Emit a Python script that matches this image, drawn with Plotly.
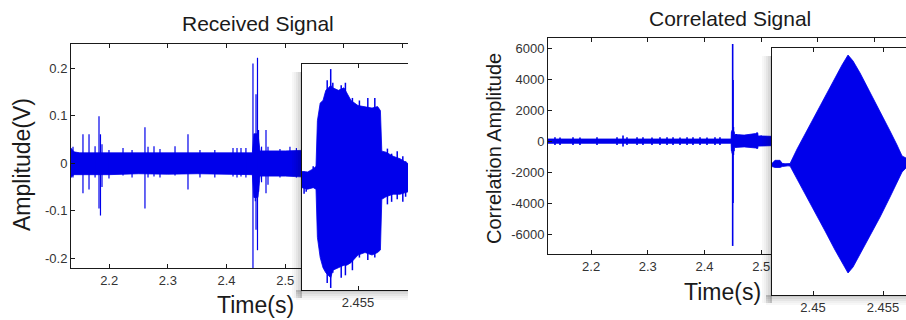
import plotly.graph_objects as go

W, H = 906, 320
BLUE = "rgb(0,0,235)"

# ---------------- Received signal (main panel) ----------------
recv_band_t  = [2.135, 2.140, 2.15, 2.20, 2.25, 2.30, 2.35, 2.40, 2.444, 2.4465, 2.4535, 2.457, 2.50, 2.55, 2.60, 2.71]
recv_band_hi = [0.032, 0.024, 0.022, 0.022, 0.021, 0.022, 0.021, 0.022, 0.022, 0.062, 0.062, 0.026, 0.026, 0.028, 0.030, 0.030]
recv_band_lo = [-0.030, -0.024, -0.023, -0.024, -0.022, -0.023, -0.022, -0.023, -0.024, -0.072, -0.072, -0.027, -0.027, -0.030, -0.030, -0.030]

recv_spike_t  = [2.1384, 2.1554, 2.1657, 2.1760, 2.1827, 2.1852, 2.1878, 2.1997, 2.2236, 2.2390,
                 2.2610, 2.2662, 2.2764, 2.2866, 2.3122, 2.3343, 2.3547, 2.3800, 2.4110, 2.4178,
                 2.4246, 2.4330, 2.4450, 2.4490, 2.4502, 2.4527, 2.4545, 2.4596, 2.4672, 2.4706,
                 2.4910, 2.5080, 2.5190]
recv_spike_hi = [0.035, 0.061, 0.061, 0.036, 0.099, 0.061, 0.040, 0.028, 0.032, 0.028,
                 0.076, 0.035, 0.036, 0.030, 0.036, 0.061, 0.028, 0.028, 0.032, 0.032,
                 0.032, 0.032, 0.210, 0.060, 0.145, 0.222, 0.070, 0.035, 0.070, 0.035,
                 0.030, 0.035, 0.032]
recv_spike_lo = [-0.030, -0.063, -0.055, -0.030, -0.095, -0.110, -0.050, -0.032, -0.026, -0.030,
                 -0.095, -0.030, -0.028, -0.030, -0.026, -0.055, -0.030, -0.030, -0.028, -0.030,
                 -0.028, -0.030, -0.222, -0.080, -0.140, -0.183, -0.060, -0.040, -0.063, -0.045,
                 -0.030, -0.025, -0.030]

recv_xticks = [2.2, 2.3, 2.4, 2.5, 2.6, 2.7]
recv_xtext  = ["2.2", "2.3", "2.4", "2.5", "", ""]
recv_yticks = [-0.2, -0.1, 0, 0.1, 0.2]
recv_ytext  = ["-0.2", "-0.1", "0", "0.1", "0.2"]

# ---------------- Received signal (zoom inset) ----------------
rin_band_t  = [2.4510, 2.4514, 2.4518, 2.4520, 2.4521, 2.4523, 2.4525, 2.4527, 2.4529, 2.45305,
               2.4532, 2.4536, 2.4540, 2.4542, 2.4545, 2.4550, 2.4555, 2.4560, 2.4564, 2.4566,
               2.4567, 2.4570, 2.4575, 2.4580, 2.4586]
rin_band_hi = [0.020, 0.019, 0.025, 0.030, 0.120, 0.155, 0.160, 0.180, 0.185, 0.190,
               0.185, 0.180, 0.185, 0.175, 0.160, 0.150, 0.148, 0.145, 0.148, 0.140,
               0.060, 0.058, 0.050, 0.045, 0.035]
rin_band_lo = [-0.012, -0.015, -0.012, -0.015, -0.110, -0.150, -0.170, -0.180, -0.185, -0.190,
               -0.175, -0.170, -0.165, -0.165, -0.160, -0.145, -0.140, -0.145, -0.140, -0.135,
               -0.035, -0.030, -0.025, -0.025, -0.020]
rin_spike_t  = [2.45115, 2.4513, 2.4518, 2.4528, 2.45305, 2.4532, 2.4538, 2.4541, 2.4546, 2.4551,
                2.4557, 2.4562, 2.4571, 2.4574, 2.4578, 2.4582, 2.4584]
rin_spike_hi = [0.020, 0.018, 0.030, 0.200, 0.222, 0.195, 0.190, 0.195, 0.165, 0.160,
                0.165, 0.165, 0.065, 0.055, 0.060, 0.050, 0.040]
rin_spike_lo = [-0.024, -0.020, -0.010, -0.200, -0.210, -0.180, -0.190, -0.185, -0.175, -0.150,
                -0.155, -0.150, -0.045, -0.040, -0.035, -0.040, -0.030]
rin_xticks = [2.45, 2.455, 2.46]
rin_xtext  = ["2.45", "2.455", "2.46"]

# ---------------- Correlated signal (main panel) ----------------
corr_band_t  = [2.124, 2.20, 2.30, 2.40, 2.447, 2.4475, 2.4525, 2.453, 2.47, 2.49, 2.494, 2.4945, 2.52, 2.7554]
corr_band_hi = [130, 130, 130, 130, 130, 600, 600, 420, 380, 480, 520, 330, 300, 250]
corr_band_lo = [-150, -150, -150, -150, -150, -650, -650, -420, -380, -450, -480, -330, -300, -250]

corr_spike_t  = [2.1363, 2.1452, 2.1681, 2.1804, 2.2104, 2.2457, 2.2563, 2.2633, 2.2810, 2.2915,
                 2.3074, 2.3215, 2.3339, 2.3445, 2.3568, 2.3692, 2.3797, 2.3921, 2.4044, 2.4185,
                 2.4273, 2.4490, 2.4497, 2.4503, 2.4510, 2.4560, 2.4620, 2.4700, 2.4780, 2.4926,
                 2.5000, 2.5070]
corr_spike_hi = [250, 230, 250, 230, 240, 250, 350, 250, 240, 250,
                 230, 250, 240, 250, 230, 250, 240, 250, 230, 250,
                 240, 700, 6260, 3935, 900, 450, 400, 350, 300, 550,
                 350, 300]
corr_spike_lo = [-260, -250, -260, -250, -250, -260, -350, -250, -250, -260,
                 -250, -260, -250, -260, -250, -260, -250, -260, -250, -260,
                 -250, -800, -6770, -4000, -900, -400, -350, -350, -300, -480,
                 -300, -300]

corr_xticks = [2.2, 2.3, 2.4, 2.5, 2.6, 2.7]
corr_xtext  = ["2.2", "2.3", "2.4", "2.5", "", ""]
corr_yticks = [-6000, -4000, -2000, 0, 2000, 4000, 6000]
corr_ytext  = ["-6000", "-4000", "-2000", "0", "2000", "4000", "6000"]

# ---------------- Correlated signal (zoom inset) ----------------
cin_band_t  = [2.44707, 2.44729, 2.44764, 2.44780, 2.44800, 2.44821, 2.44836, 2.44886, 2.44943, 2.45014,
               2.45086, 2.45157, 2.45207, 2.45250, 2.45286, 2.45336, 2.45407, 2.45479, 2.45550, 2.45600,
               2.45636, 2.45664]
cin_band_hi = [-20, 150, 150, -20, -40, -40, -30, 781, 1618, 2623,
               3683, 4744, 5469, 6027, 5693, 5023, 3963, 2902, 1786, 1005,
               391, 280]
cin_band_lo = [-200, -250, -250, -200, -160, -160, -170, -893, -1730, -2735,
               -3795, -4855, -5581, -6139, -5805, -5135, -4074, -3014, -1898, -1116,
               -502, -280]
cin_xticks = [2.45, 2.455]
cin_xtext  = ["2.45", "2.455"]


def band_xy(t, hi, lo):
    return list(t) + list(t)[::-1], list(hi) + list(lo)[::-1]


def spikes_xy(t, hi, lo):
    xs, ys = [], []
    for a, b, c in zip(t, hi, lo):
        xs += [a, a, None]
        ys += [c, b, None]
    return xs, ys


fig = go.Figure()


def add_band(t, hi, lo, xa, ya):
    bx, by = band_xy(t, hi, lo)
    fig.add_trace(go.Scatter(x=bx, y=by, xaxis=xa, yaxis=ya, mode="lines", fill="toself",
                             fillcolor=BLUE, line=dict(color=BLUE, width=0.8),
                             hoverinfo="skip", showlegend=False))


def add_spikes(t, hi, lo, xa, ya, w=1.2):
    sx, sy = spikes_xy(t, hi, lo)
    fig.add_trace(go.Scatter(x=sx, y=sy, xaxis=xa, yaxis=ya, mode="lines",
                             line=dict(color=BLUE, width=w), hoverinfo="skip", showlegend=False))


add_band(recv_band_t, recv_band_hi, recv_band_lo, "x", "y")
add_spikes(recv_spike_t, recv_spike_hi, recv_spike_lo, "x", "y")
add_band(rin_band_t, rin_band_hi, rin_band_lo, "x2", "y2")
add_spikes(rin_spike_t, rin_spike_hi, rin_spike_lo, "x2", "y2", 1.5)
add_band(corr_band_t, corr_band_hi, corr_band_lo, "x3", "y3")
add_spikes(corr_spike_t, corr_spike_hi, corr_spike_lo, "x3", "y3", 1.6)
add_band(cin_band_t, cin_band_hi, cin_band_lo, "x4", "y4")

LINE = "#1a1a1a"
TICKF = dict(family="Liberation Sans, Arial, sans-serif", size=13, color="#333333")


def px_x(p):
    return p / W


def px_y(p):
    return 1 - p / H


def xax(dom, rng, anchor, tv, tt):
    return dict(domain=[px_x(dom[0]), px_x(dom[1])], range=rng, anchor=anchor,
                tickvals=tv, ticktext=tt, ticks="inside", ticklen=4, tickcolor=LINE,
                showline=True, linecolor=LINE, linewidth=1, mirror="ticks",
                showgrid=False, zeroline=False, tickfont=TICKF, fixedrange=True)


def yax(dom, rng, anchor, tv=None, tt=None, labels=True):
    d = dict(domain=[px_y(dom[1]), px_y(dom[0])], range=rng, anchor=anchor,
             showline=True, linecolor=LINE, linewidth=1, mirror=False,
             showgrid=False, zeroline=False, tickfont=TICKF, fixedrange=True)
    if labels:
        d.update(tickvals=tv, ticktext=tt, ticks="inside", ticklen=4, tickcolor=LINE)
    else:
        d.update(showticklabels=False, ticks="")
    return d


fig.update_layout(
    width=W, height=H, autosize=False,
    margin=dict(l=0, r=0, t=0, b=0),
    paper_bgcolor="white", plot_bgcolor="white",
    font=dict(family="Liberation Sans, Arial, sans-serif", color="#1a1a1a"),
    xaxis=xax((71, 408), [2.135, 2.7091], "y", recv_xticks, recv_xtext),
    yaxis=yax((44, 268), [-0.2204, 0.251], "x", recv_yticks, recv_ytext),
    xaxis2=xax((302, 408), [2.451, 2.45857], "y2", rin_xticks, rin_xtext),
    yaxis2=yax((64, 290), [-0.214, 0.232], "x2", labels=False),
    xaxis3=xax((548, 906), [2.124, 2.7554], "y3", corr_xticks, corr_xtext),
    yaxis3=yax((38, 254), [-7290, 6645], "x3", corr_yticks, corr_ytext),
    xaxis4=xax((772, 906), [2.44707, 2.45664], "y4", cin_xticks, cin_xtext),
    yaxis4=yax((48, 295), [-7367, 6419], "x4", labels=False),
)

# soft drop shadows around the zoom insets
shapes = []
alphas = [0.03, 0.06, 0.10, 0.15, 0.21]


def shadow(left, top, bottom, right):
    for i, a in enumerate(alphas):
        shapes.append(dict(type="rect", xref="paper", yref="paper", layer="above",
                           x0=px_x(left - 10 + 2 * i), x1=px_x(left - 8 + 2 * i),
                           y0=px_y(bottom + 8), y1=px_y(top + 8),
                           line=dict(width=0), fillcolor=f"rgba(0,0,0,{a})"))
        shapes.append(dict(type="rect", xref="paper", yref="paper", layer="above",
                           x0=px_x(left - 6), x1=px_x(right),
                           y0=px_y(bottom + 10 - 2 * i), y1=px_y(bottom + 8 - 2 * i),
                           line=dict(width=0), fillcolor=f"rgba(0,0,0,{a})"))


shadow(302, 64, 290, 408)
shadow(772, 48, 295, 906)
fig.update_layout(shapes=shapes)

ann = []


def label(text, x, y, size, angle=0):
    ann.append(dict(text=text, x=px_x(x), y=px_y(y), xref="paper", yref="paper",
                    showarrow=False, xanchor="center", yanchor="middle", textangle=angle,
                    font=dict(size=size, color="#1a1a1a",
                              family="Liberation Sans, Arial, sans-serif")))


label("Received Signal", 258, 23, 21)
label("Amplitude(V)", 22, 165, 23, -90)
label("Time(s)", 255, 305, 23)
label("Correlated Signal", 730, 18, 21)
label("Correlation Amplitude", 494, 149, 20, -90)
label("Time(s)", 722, 292, 23)
fig.update_layout(annotations=ann)

fig.write_html("out.html")
